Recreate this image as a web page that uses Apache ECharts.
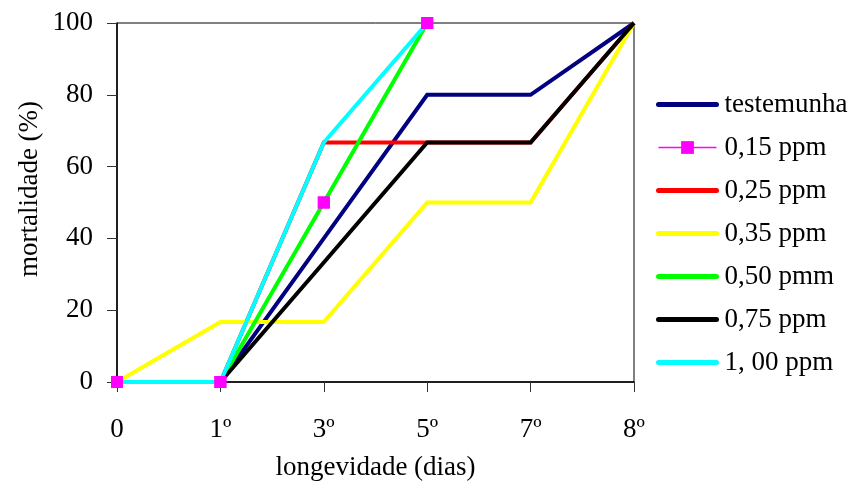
<!DOCTYPE html>
<html>
<head>
<meta charset="utf-8">
<script src="https://cdn.jsdelivr.net/npm/echarts@6/dist/echarts.min.js"></script>
<style>html,body{margin:0;padding:0;background:#fff}#c{width:856px;height:494px}</style>
</head>
<body>
<div id="c"></div>
<script>
var categories = ['0', '1º', '3º', '5º', '7º', '8º'];
var yTicks = [0, 20, 40, 60, 80, 100];
var testemunha = [0, 0, 40, 80, 80, 100];
var ppm015 = [0, 0, 50, 100, null, null];
var ppm025 = [0, 0, 66.7, 66.7, 66.7, 100];
var ppm035 = [0, 16.7, 16.7, 50, 50, 100];
var ppm050 = [0, 0, 50, 100, null, null];
var ppm075 = [0, 0, 33.3, 66.7, 66.7, 100];
var ppm100 = [0, 0, 66.7, 100, null, null];
var seriesNames = ['testemunha', '0,15 ppm', '0,25 ppm', '0,35 ppm', '0,50 pmm', '0,75 ppm', '1, 00 ppm'];
var colors = ['#000080', '#FF00FF', '#FF0000', '#FFFF00', '#00FF00', '#000000', '#00FFFF'];
var values = [testemunha, ppm015, ppm025, ppm035, ppm050, ppm075, ppm100];

var FONT = '"Liberation Serif", "Times New Roman", serif';
var chart = echarts.init(document.getElementById('c'), null, {renderer: 'canvas'});

var series = values.map(function (v, i) {
  var isMarker = i === 1;
  return {
    name: seriesNames[i],
    type: 'line',
    data: v,
    color: colors[i],
    symbol: isMarker ? 'rect' : 'none',
    symbolSize: isMarker ? 12 : 0,
    showSymbol: isMarker,
    showAllSymbol: true,
    lineStyle: {width: isMarker ? 1 : 4, color: colors[i], join: 'miter', cap: 'butt'},
    itemStyle: {color: colors[i]},
    z: 2,
    animation: false
  };
});
// markers of 0,15 ppm drawn above all lines
series.push({
  name: seriesNames[1],
  type: 'line',
  data: ppm015,
  color: colors[1],
  symbol: 'rect',
  symbolSize: 12,
  showAllSymbol: true,
  lineStyle: {width: 0, opacity: 0},
  itemStyle: {color: colors[1]},
  z: 10,
  animation: false
});

var legendData = seriesNames.map(function (n, i) {
  if (i === 1) {
    return {name: n, lineStyle: {width: 1.5, color: colors[i]}, itemStyle: {color: colors[i], opacity: 1}};
  }
  return {name: n, lineStyle: {width: 5, cap: 'round', color: colors[i]}, itemStyle: {opacity: 0}};
});

chart.setOption({
  animation: false,
  backgroundColor: '#fff',
  grid: {left: 117, right: 222, top: 23, bottom: 112, show: true, borderColor: '#000', borderWidth: 1},
  legend: {
    orient: 'vertical',
    left: 656,
    top: 91,
    padding: 0,
    itemWidth: 58,
    itemHeight: 16,
    itemGap: 16,
    data: legendData,
    textStyle: {fontFamily: FONT, fontSize: 27, color: '#000', lineHeight: 27, padding: [0, 0, 0, 3]}
  },
  xAxis: {
    type: 'category',
    data: categories,
    boundaryGap: false,
    axisLine: {lineStyle: {color: '#000', width: 1.5}},
    axisTick: {show: true, length: 10, lineStyle: {color: '#333'}},
    axisLabel: {fontFamily: FONT, fontSize: 27, color: '#000', margin: 34},
    splitLine: {show: false},
    name: 'longevidade (dias)',
    nameLocation: 'middle',
    nameGap: 72,
    nameTextStyle: {fontFamily: FONT, fontSize: 27, color: '#000'}
  },
  yAxis: {
    type: 'value',
    min: yTicks[0],
    max: yTicks[yTicks.length - 1],
    interval: 20,
    axisLine: {show: true, lineStyle: {color: '#000', width: 1.5}},
    axisTick: {show: true, length: 10, lineStyle: {color: '#333'}},
    axisLabel: {fontFamily: FONT, fontSize: 27, color: '#000', margin: 24},
    splitLine: {show: false}
  },
  graphic: [{
    type: 'text',
    x: 30,
    y: 189,
    rotation: Math.PI / 2,
    style: {text: 'mortalidade (%)', font: '27px ' + FONT, fill: '#000', textAlign: 'center', textVerticalAlign: 'middle'}
  }],
  series: series
});
</script>
</body>
</html>
